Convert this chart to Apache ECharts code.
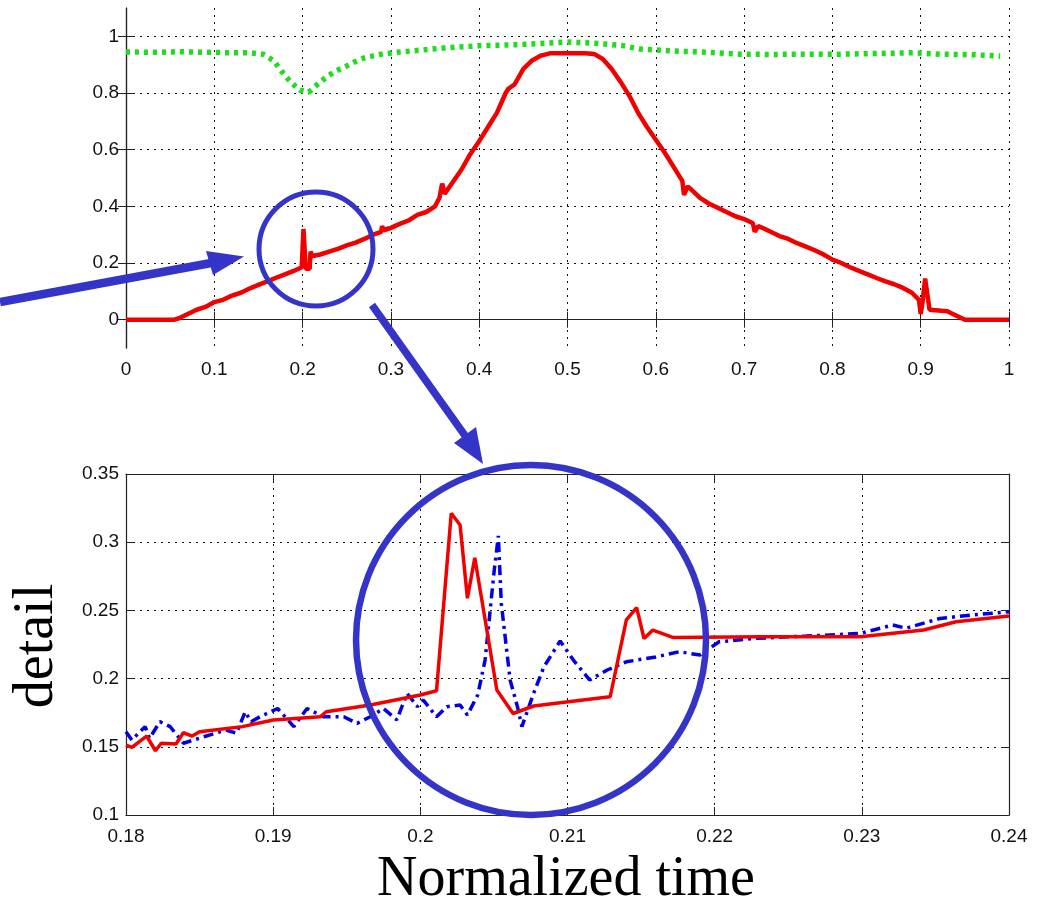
<!DOCTYPE html>
<html><head><meta charset="utf-8">
<script src="https://cdn.jsdelivr.net/npm/echarts@6/dist/echarts.min.js"></script>
<style>html,body{margin:0;padding:0;background:#fff}#c{width:1041px;height:911px}</style>
</head><body><div id="c"></div>
<script>
// ---- tick labels ----
const topXTicks = [0, 0.1, 0.2, 0.3, 0.4, 0.5, 0.6, 0.7, 0.8, 0.9, 1];
const topYTicks = [0, 0.2, 0.4, 0.6, 0.8, 1];
const botXTicks = [0.18, 0.19, 0.2, 0.21, 0.22, 0.23, 0.24];
const botYTicks = [0.1, 0.15, 0.2, 0.25, 0.3, 0.35];

// ---- top panel: green dotted series ----
const greenX = [0, 0.02, 0.04, 0.06, 0.08, 0.1, 0.12, 0.14, 0.155, 0.167, 0.176, 0.186, 0.197, 0.207, 0.217, 0.228, 0.238, 0.249, 0.259, 0.27, 0.28, 0.291, 0.311, 0.333, 0.363, 0.401, 0.439, 0.476, 0.499, 0.529, 0.545, 0.561, 0.582, 0.62, 0.658, 0.695, 0.73, 0.771, 0.81, 0.846, 0.891, 0.922, 0.96, 0.99];
const greenY = [0.945, 0.944, 0.944, 0.946, 0.944, 0.943, 0.942, 0.942, 0.937, 0.915, 0.878, 0.84, 0.81, 0.803, 0.831, 0.859, 0.878, 0.894, 0.91, 0.924, 0.931, 0.938, 0.945, 0.951, 0.96, 0.967, 0.97, 0.976, 0.98, 0.976, 0.972, 0.968, 0.955, 0.948, 0.944, 0.937, 0.936, 0.937, 0.937, 0.939, 0.942, 0.937, 0.935, 0.93];

// ---- top panel: red (solid) and blue (dash-dot) series ----
const topX = [0, 0.055, 0.06, 0.07, 0.08, 0.09, 0.1, 0.11, 0.12, 0.13, 0.14, 0.15, 0.16, 0.17, 0.18, 0.19, 0.199, 0.2, 0.201, 0.2025, 0.2035, 0.208, 0.209, 0.211, 0.22, 0.23, 0.24, 0.25, 0.26, 0.27, 0.28, 0.289, 0.29, 0.292, 0.3, 0.31, 0.32, 0.33, 0.34, 0.35, 0.355, 0.358, 0.361, 0.37, 0.38, 0.39, 0.4, 0.41, 0.42, 0.43, 0.433, 0.44, 0.45, 0.46, 0.47, 0.48, 0.5, 0.52, 0.53, 0.54, 0.55, 0.56, 0.57, 0.58, 0.59, 0.6, 0.61, 0.62, 0.63, 0.632, 0.636, 0.64, 0.65, 0.66, 0.67, 0.68, 0.69, 0.7, 0.71, 0.712, 0.716, 0.72, 0.73, 0.74, 0.75, 0.76, 0.77, 0.78, 0.79, 0.8, 0.81, 0.82, 0.83, 0.84, 0.85, 0.86, 0.87, 0.88, 0.89, 0.898, 0.9, 0.902, 0.905, 0.908, 0.91, 0.93, 0.94, 0.95, 1];
const topRed = [0, 0, 0.005, 0.02, 0.035, 0.045, 0.062, 0.07, 0.085, 0.095, 0.11, 0.123, 0.135, 0.148, 0.16, 0.172, 0.185, 0.188, 0.32, 0.315, 0.18, 0.18, 0.24, 0.225, 0.23, 0.24, 0.25, 0.262, 0.272, 0.285, 0.3, 0.31, 0.33, 0.315, 0.324, 0.338, 0.35, 0.37, 0.38, 0.4, 0.43, 0.48, 0.445, 0.485, 0.53, 0.585, 0.63, 0.68, 0.73, 0.8, 0.815, 0.83, 0.885, 0.915, 0.932, 0.94, 0.94, 0.94, 0.938, 0.92, 0.885, 0.84, 0.79, 0.73, 0.68, 0.635, 0.59, 0.54, 0.49, 0.44, 0.47, 0.46, 0.43, 0.41, 0.395, 0.38, 0.365, 0.355, 0.34, 0.31, 0.33, 0.325, 0.31, 0.295, 0.285, 0.27, 0.258, 0.245, 0.23, 0.212, 0.2, 0.185, 0.172, 0.16, 0.147, 0.135, 0.125, 0.112, 0.095, 0.07, 0.02, 0.06, 0.145, 0.08, 0.035, 0.03, 0.015, 0, 0];
const topBlue = [0, 0, 0.006, 0.021, 0.035, 0.046, 0.062, 0.071, 0.085, 0.096, 0.11, 0.124, 0.135, 0.149, 0.16, 0.173, 0.185, 0.188, 0.3, 0.3, 0.19, 0.18, 0.22, 0.225, 0.231, 0.241, 0.251, 0.263, 0.273, 0.286, 0.3, 0.31, 0.32, 0.316, 0.325, 0.338, 0.351, 0.37, 0.381, 0.4, 0.43, 0.46, 0.445, 0.486, 0.531, 0.586, 0.63, 0.681, 0.731, 0.8, 0.815, 0.831, 0.886, 0.916, 0.933, 0.94, 0.941, 0.941, 0.939, 0.921, 0.886, 0.841, 0.791, 0.731, 0.681, 0.636, 0.591, 0.541, 0.49, 0.46, 0.47, 0.461, 0.431, 0.411, 0.396, 0.381, 0.366, 0.356, 0.341, 0.32, 0.331, 0.326, 0.311, 0.296, 0.286, 0.271, 0.259, 0.246, 0.231, 0.213, 0.201, 0.186, 0.173, 0.161, 0.148, 0.136, 0.126, 0.113, 0.096, 0.07, 0.03, 0.06, 0.12, 0.08, 0.036, 0.031, 0.016, 0, 0];

// ---- bottom panel (detail) ----
const botRedX = [0.18, 0.1804, 0.1814, 0.182, 0.1824, 0.1834, 0.1839, 0.1845, 0.185, 0.1879, 0.19, 0.1932, 0.1936, 0.1966, 0.2, 0.2011, 0.2021, 0.2027, 0.2032, 0.2037, 0.2052, 0.2063, 0.2077, 0.2095, 0.2129, 0.214, 0.2147, 0.2152, 0.2158, 0.2172, 0.2231, 0.2299, 0.2342, 0.2364, 0.24];
const botRedY = [0.1513, 0.1496, 0.1579, 0.1471, 0.1526, 0.152, 0.1603, 0.1579, 0.161, 0.1648, 0.1697, 0.172, 0.1757, 0.1806, 0.188, 0.1911, 0.3212, 0.3126, 0.2589, 0.2886, 0.1916, 0.1744, 0.1799, 0.1823, 0.1867, 0.243, 0.2521, 0.2294, 0.2356, 0.2301, 0.2306, 0.2306, 0.2356, 0.2417, 0.2459];
const botBlueX = [0.18, 0.1804, 0.1813, 0.1816, 0.1823, 0.183, 0.1839, 0.1853, 0.1868, 0.1875, 0.1881, 0.1885, 0.1891, 0.1903, 0.1914, 0.1923, 0.1934, 0.1948, 0.1957, 0.1966, 0.1975, 0.1984, 0.1991, 0.1998, 0.2002, 0.2011, 0.2018, 0.2027, 0.2032, 0.2039, 0.2044, 0.205, 0.2053, 0.2055, 0.2061, 0.2066, 0.2069, 0.2077, 0.2084, 0.2095, 0.2104, 0.2115, 0.2127, 0.214, 0.216, 0.2176, 0.219, 0.2203, 0.2226, 0.2262, 0.2299, 0.2321, 0.233, 0.2353, 0.2376, 0.24];
const botBlueY = [0.161, 0.155, 0.1648, 0.1562, 0.1684, 0.1648, 0.1526, 0.1574, 0.1623, 0.1599, 0.1757, 0.1684, 0.172, 0.1781, 0.1648, 0.1781, 0.172, 0.172, 0.1672, 0.172, 0.1781, 0.1697, 0.1892, 0.1794, 0.1843, 0.172, 0.1794, 0.1806, 0.1733, 0.188, 0.2136, 0.2772, 0.3046, 0.2553, 0.199, 0.1794, 0.1648, 0.1892, 0.2087, 0.2276, 0.2136, 0.199, 0.2063, 0.2123, 0.2159, 0.2197, 0.2173, 0.227, 0.2294, 0.2312, 0.2331, 0.2393, 0.2369, 0.2441, 0.2467, 0.249];

// ---- texts ----
const xAxisTitle = 'Normalized time';
const yAxisTitle = 'detail';

const zip = (xs, ys) => xs.map((x, i) => [x, ys[i]]);

const RED = '#F20000', BLUE = '#0000E0', GREEN = '#1EDC1E', ANN = '#3434C8';
const FRAME = '#222';
const LABEL = { color: '#111', fontFamily: 'Liberation Sans', fontSize: 19 };
const gridLine = { show: true, lineStyle: { color: '#111', width: 1, type: [2, 5] } };

function mainX(gi, min, max, ticks, margin) {
  return {
    type: 'value', gridIndex: gi, min, max, position: 'bottom',
    axisLine: { show: true, lineStyle: { color: FRAME, width: 1.2 } },
    axisTick: { show: true, inside: true, length: 8, customValues: ticks, lineStyle: { color: FRAME } },
    axisLabel: Object.assign({ customValues: ticks, margin: margin, showMinLabel: true, showMaxLabel: true, hideOverlap: false }, LABEL),
    splitLine: gridLine
  };
}
function sideX(gi, min, max, ticks) {
  return {
    type: 'value', gridIndex: gi, min, max, position: 'top',
    axisLine: { show: true, lineStyle: { color: FRAME, width: 1.2 } },
    axisTick: { show: true, inside: true, length: 8, customValues: ticks, lineStyle: { color: FRAME } },
    axisLabel: { show: false }, splitLine: { show: false }
  };
}
function mainY(gi, min, max, ticks) {
  return {
    type: 'value', gridIndex: gi, min, max, position: 'left',
    axisLine: { show: true, lineStyle: { color: FRAME, width: 1.2 } },
    axisTick: { show: true, inside: true, length: 8, customValues: ticks, lineStyle: { color: FRAME } },
    axisLabel: Object.assign({ customValues: ticks, margin: 7, showMinLabel: true, showMaxLabel: true, hideOverlap: false }, LABEL),
    splitLine: gridLine
  };
}
function sideY(gi, min, max, ticks) {
  return {
    type: 'value', gridIndex: gi, min, max, position: 'right',
    axisLine: { show: true, lineStyle: { color: FRAME, width: 1.2 } },
    axisTick: { show: true, inside: true, length: 8, customValues: ticks, lineStyle: { color: FRAME } },
    axisLabel: { show: false }, splitLine: { show: false }
  };
}

const chart = echarts.init(document.getElementById('c'), null, { renderer: 'canvas' });

// annotation geometry (pixel space, drawn over the chart)
const smallCircle = { cx: 316, cy: 249, r: 57, w: 5 };
const bigCircle = { cx: 531, cy: 640, r: 175, w: 6.5 };
const arrow1 = { x1: 0, y1: 302, x2: 211, y2: 263, head: [[206, 251], [244, 256.5], [213, 275]] };
const arrow2 = { x1: 372, y1: 305, x2: 466, y2: 437, head: [[454, 443], [476, 427], [483, 464]] };

chart.setOption({
  animation: false,
  backgroundColor: '#fff',
  grid: [
    { left: 126, top: 8, width: 883, height: 340, outerBoundsMode: 'none' },
    { left: 126, top: 474, width: 883, height: 341, outerBoundsMode: 'none' }
  ],
  xAxis: [
    mainX(0, 0, 1, topXTicks, 12), sideX(0, 0, 1, topXTicks),
    mainX(1, 0.18, 0.24, botXTicks, 12), sideX(1, 0.18, 0.24, botXTicks)
  ],
  yAxis: [
    mainY(0, -0.1, 1.1, topYTicks), sideY(0, -0.1, 1.1, topYTicks),
    mainY(1, 0.1, 0.35, botYTicks), sideY(1, 0.1, 0.35, botYTicks)
  ],
  series: [
    { type: 'line', xAxisIndex: 0, yAxisIndex: 0, data: zip(greenX, greenY), showSymbol: false, silent: true,
      lineStyle: { color: GREEN, width: 5.5, type: [4, 5], cap: 'butt' } },
    { type: 'line', xAxisIndex: 0, yAxisIndex: 0, data: zip(topX, topBlue), showSymbol: false, silent: true,
      lineStyle: { color: BLUE, width: 3, type: [9, 4, 2, 4] } },
    { type: 'line', xAxisIndex: 0, yAxisIndex: 0, data: zip(topX, topRed), showSymbol: false, silent: true,
      lineStyle: { color: RED, width: 4.5 } },
    { type: 'line', xAxisIndex: 2, yAxisIndex: 2, data: zip(botBlueX, botBlueY), showSymbol: false, silent: true,
      lineStyle: { color: BLUE, width: 3.5, type: [10, 5, 3, 5] } },
    { type: 'line', xAxisIndex: 2, yAxisIndex: 2, data: zip(botRedX, botRedY), showSymbol: false, silent: true,
      lineStyle: { color: RED, width: 3.5 } }
  ],
  graphic: [
    { type: 'circle', shape: { cx: smallCircle.cx, cy: smallCircle.cy, r: smallCircle.r }, silent: true, z: 100,
      style: { fill: 'none', stroke: ANN, lineWidth: smallCircle.w } },
    { type: 'circle', shape: { cx: bigCircle.cx, cy: bigCircle.cy, r: bigCircle.r }, silent: true, z: 100,
      style: { fill: 'none', stroke: ANN, lineWidth: bigCircle.w } },
    { type: 'line', shape: { x1: arrow1.x1, y1: arrow1.y1, x2: arrow1.x2, y2: arrow1.y2 }, silent: true, z: 100,
      style: { stroke: ANN, lineWidth: 8.5 } },
    { type: 'polygon', shape: { points: arrow1.head }, silent: true, z: 100, style: { fill: ANN } },
    { type: 'line', shape: { x1: arrow2.x1, y1: arrow2.y1, x2: arrow2.x2, y2: arrow2.y2 }, silent: true, z: 100,
      style: { stroke: ANN, lineWidth: 7.5 } },
    { type: 'polygon', shape: { points: arrow2.head }, silent: true, z: 100, style: { fill: ANN } },
    { type: 'text', x: 566, y: 880, silent: true, z: 100,
      style: { text: xAxisTitle, fill: '#000', font: '56px "Liberation Serif"', textAlign: 'center', textVerticalAlign: 'middle' } },
    { type: 'text', x: 37, y: 646, rotation: Math.PI / 2, silent: true, z: 100,
      style: { text: yAxisTitle, fill: '#000', font: '56px "Liberation Serif"', textAlign: 'center', textVerticalAlign: 'middle' } }
  ]
});
</script>
</body></html>
